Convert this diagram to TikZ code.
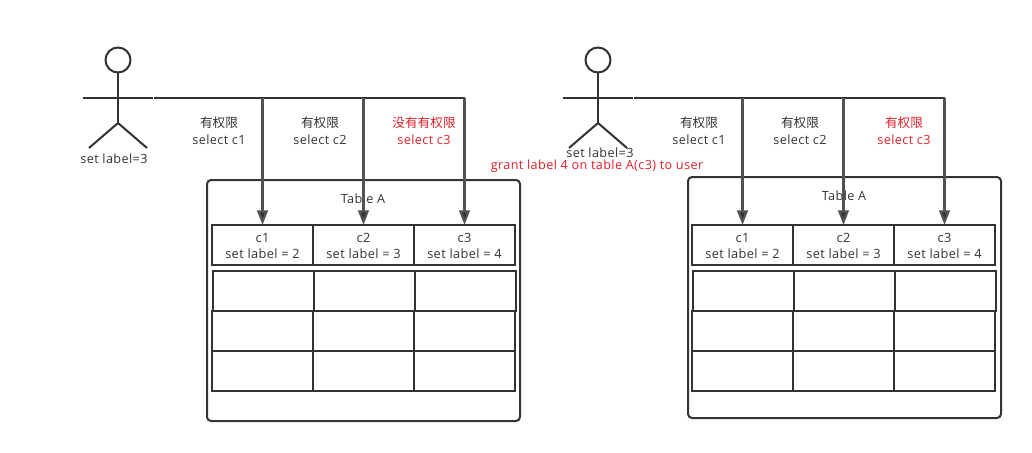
\documentclass[tikz,border=0pt]{standalone}
\usepackage{fontspec}
\setmainfont{Open Sans}[LetterSpace=3]
\newfontfamily\cjk{Noto Sans CJK SC}
\usetikzlibrary{arrows.meta}
\definecolor{ink}{HTML}{333333}
\definecolor{redtxt}{HTML}{E0202A}
\newlength\pxu \setlength\pxu{0.75pt}
\tikzset{
  x=0.75pt,y=-0.75pt,
  flow/.style={draw=ink!85,line width=1.7pt,-{Triangle[length=11pt,width=8pt,fill=ink]}},
  plainline/.style={draw=ink,line width=1.5pt},
  head/.style={circle,draw=ink,line width=1.5pt,fill=white,minimum size=25\pxu,inner sep=0pt,outer sep=0pt},
  cell/.style={rectangle,draw=ink,line width=1.5pt,minimum width=101\pxu,minimum height=40\pxu,inner sep=0pt,outer sep=0pt,align=center,text=ink,font=\fontsize{9.6}{12}\selectfont},
  tablebox/.style={rectangle,rounded corners=3pt,draw=ink,line width=1.5pt,inner sep=0pt,outer sep=0pt,minimum width=313\pxu,minimum height=241\pxu},
  lbl/.style={inner sep=0pt,align=center,text=ink,font=\fontsize{9.5}{12.5}\selectfont},
  redlbl/.style={lbl,text=redtxt},
}
\begin{document}
\begin{tikzpicture}
\useasboundingbox (0,0) rectangle (1032,453);
% ---------- left
\node[tablebox] (boxL) at (363.5,300.5) {};
\node[lbl] (titleL) at (363,198.5) {Table A};
\node[cell] (L11) at (262.5,245) {\rule{0pt}{9pt}c1\\set label = 2};
\node[cell] (L12) at (363.5,245) {\rule{0pt}{9pt}c2\\set label = 3};
\node[cell] (L13) at (464.5,245) {\rule{0pt}{9pt}c3\\set label = 4};
\node[cell] (L21) at (263.5,291) {};
\node[cell] (L22) at (364.5,291) {};
\node[cell] (L23) at (465.5,291) {};
\node[cell] (L31) at (262.5,331) {};
\node[cell] (L32) at (363.5,331) {};
\node[cell] (L33) at (464.5,331) {};
\node[cell] (L41) at (262.5,371) {};
\node[cell] (L42) at (363.5,371) {};
\node[cell] (L43) at (464.5,371) {};
\node[head] (headL) at (118,60) {};
\coordinate (hipL) at (118,123);
\coordinate (handaL) at (83,98);
\coordinate (handbL) at (153,98);
\coordinate (footaL) at (89,148);
\coordinate (footbL) at (147,148);
\draw[plainline] (headL.south) -- (hipL);
\draw[plainline] (handaL) -- (handbL);
\draw[plainline] (footaL) -- (hipL) -- (footbL);
\coordinate (startL) at (154,98);
\coordinate (endL) at (465,98);
\draw[plainline] (startL) -- (endL);
\coordinate (t1L) at (262.5,98);
\coordinate (t2L) at (363.5,98);
\coordinate (t3L) at (464.5,98);
\draw[flow] (t1L) -- (L11.north);
\draw[flow] (t2L) -- (L12.north);
\draw[flow] (t3L) -- (L13.north);
\node[lbl] (a1L) at (219,131) {{\cjk 有权限}\\select c1};
\node[lbl] (a2L) at (320,131) {{\cjk 有权限}\\select c2};
\node[redlbl] (a3L) at (424,131) {{\cjk 没有有权限}\\select c3};
\node[lbl] (setL) at (114,159) {set label=3};
% ---------- right
\node[tablebox] (boxR) at (844.5,297.5) {};
\node[lbl] (titleR) at (844,195.5) {Table A};
\node[cell] (R11) at (742.5,245) {\rule{0pt}{9pt}c1\\set label = 2};
\node[cell] (R12) at (843.5,245) {\rule{0pt}{9pt}c2\\set label = 3};
\node[cell] (R13) at (944.5,245) {\rule{0pt}{9pt}c3\\set label = 4};
\node[cell] (R21) at (743.5,291) {};
\node[cell] (R22) at (844.5,291) {};
\node[cell] (R23) at (945.5,291) {};
\node[cell] (R31) at (742.5,331) {};
\node[cell] (R32) at (843.5,331) {};
\node[cell] (R33) at (944.5,331) {};
\node[cell] (R41) at (742.5,371) {};
\node[cell] (R42) at (843.5,371) {};
\node[cell] (R43) at (944.5,371) {};
\node[head] (headR) at (598,60) {};
\coordinate (hipR) at (598,123);
\coordinate (handaR) at (563,98);
\coordinate (handbR) at (633,98);
\coordinate (footaR) at (569,148);
\coordinate (footbR) at (627,148);
\draw[plainline] (headR.south) -- (hipR);
\draw[plainline] (handaR) -- (handbR);
\draw[plainline] (footaR) -- (hipR) -- (footbR);
\coordinate (startR) at (634,98);
\coordinate (endR) at (945,98);
\draw[plainline] (startR) -- (endR);
\coordinate (t1R) at (742.5,98);
\coordinate (t2R) at (843.5,98);
\coordinate (t3R) at (944.5,98);
\draw[flow] (t1R) -- (R11.north);
\draw[flow] (t2R) -- (R12.north);
\draw[flow] (t3R) -- (R13.north);
\node[lbl] (a1R) at (699,131) {{\cjk 有权限}\\select c1};
\node[lbl] (a2R) at (800,131) {{\cjk 有权限}\\select c2};
\node[redlbl] (a3R) at (904,131) {{\cjk 有权限}\\select c3};
\node[lbl] (setR) at (600,153) {set label=3};
\node[redlbl] (grant) at (597,166.5) {grant label 4 on table A(c3) to user};
\end{tikzpicture}
\end{document}
